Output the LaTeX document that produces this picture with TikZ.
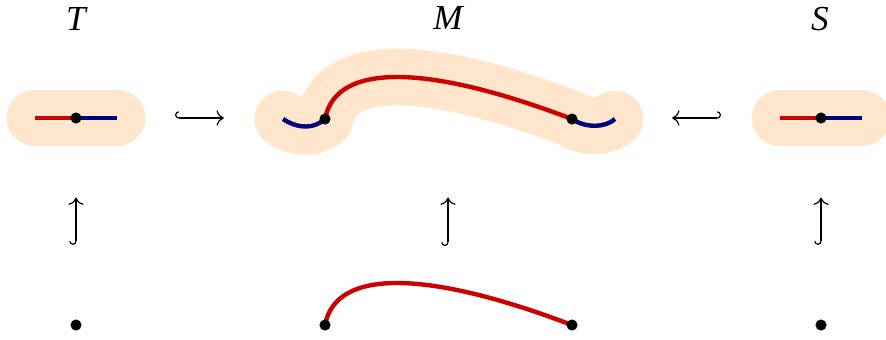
\documentclass[tikz,border=0pt]{standalone}
\usepackage{fontspec}
\setmainfont{Liberation Serif}
\usetikzlibrary{arrows.meta}
\definecolor{bandpeach}{RGB}{255,230,204}
\definecolor{arcred}{RGB}{204,0,0}
\definecolor{arcblue}{RGB}{0,0,128}
\tikzset{
  band/.style={draw=bandpeach, line width=19.4pt, line cap=round, line join=round},
  redarc/.style={draw=arcred, line width=1.5pt},
  bluearc/.style={draw=arcblue, line width=1.5pt},
  pt/.style={circle, fill=black, inner sep=0pt, minimum size=3.8pt},
  space/.style={rectangle, inner sep=0pt, outer sep=0pt, minimum height=0.684cm},
  lbl/.style={font=\large\itshape},
  incl/.style={arrows={Hooks[right]-To}},
  inclrev/.style={arrows={Hooks[left]-To}}
}

\begin{document}
\begin{tikzpicture}[x=0.012cm, y=-0.012cm]
    \useasboundingbox (0,0) rectangle (886,339);
    % column labels
    \node[lbl] (lT) at (76,19) {T};
    \node[lbl] (lM) at (448,18) {M};
    \node[lbl] (lS) at (820,19) {S};
    % T
    \draw[band] (35,118) -- (117,118);
    \draw[redarc] (35,118) -- (76,118);
    \draw[bluearc] (76,118) -- (117,118);
    \node[pt] (t) at (76,118) {};
    \node[space, minimum width=1.68cm] (Tsp) at (76,118) {};
    % M
    \draw[band] (283,119) .. controls (300,130) and (315,128) .. (325,119)
      .. controls (336,61) and (430,65) .. (572,119)
      .. controls (585,128) and (605,128) .. (615,119);
    \draw[bluearc] (283,119) .. controls (300,130) and (315,128) .. (325,119);
    \draw[redarc] (325,119) .. controls (336,61) and (430,65) .. (572,119);
    \draw[bluearc] (572,119) .. controls (585,128) and (605,128) .. (615,119);
    \node[pt] (m1) at (325,119) {};
    \node[pt] (m2) at (572,119) {};
    \node[space, minimum width=4.68cm] (Msp) at (448,118) {};
    % S
    \draw[band] (780,118) -- (862,118);
    \draw[redarc] (780,118) -- (821,118);
    \draw[bluearc] (821,118) -- (862,118);
    \node[pt] (s) at (821,118) {};
    \node[space, minimum width=1.68cm] (Ssp) at (820,118) {};
    % bottom row
    \node[pt] (tpt) at (76,325) {};
    \draw[redarc] (325,325) .. controls (336,267) and (430,271) .. (572,325);
    \node[pt] (n1) at (325,325) {};
    \node[pt] (n2) at (572,325) {};
    \coordinate (ncur) at (448,325);
    \node[pt] (spt) at (821,325) {};
    % inclusions
    \draw[incl, shorten <=0.348cm, shorten >=0.348cm] (Tsp) -- (Msp);
    \draw[inclrev, shorten <=0.348cm, shorten >=0.348cm] (Ssp) -- (Msp);
    \draw[incl, shorten <=0.888cm, shorten >=0.612cm] (tpt) -- (Tsp);
    \draw[incl, shorten <=0.948cm, shorten >=0.612cm] (ncur) -- (Msp);
    \draw[incl, shorten <=0.888cm, shorten >=0.612cm] (spt) -- (spt |- Ssp.south);
\end{tikzpicture}
\end{document}
